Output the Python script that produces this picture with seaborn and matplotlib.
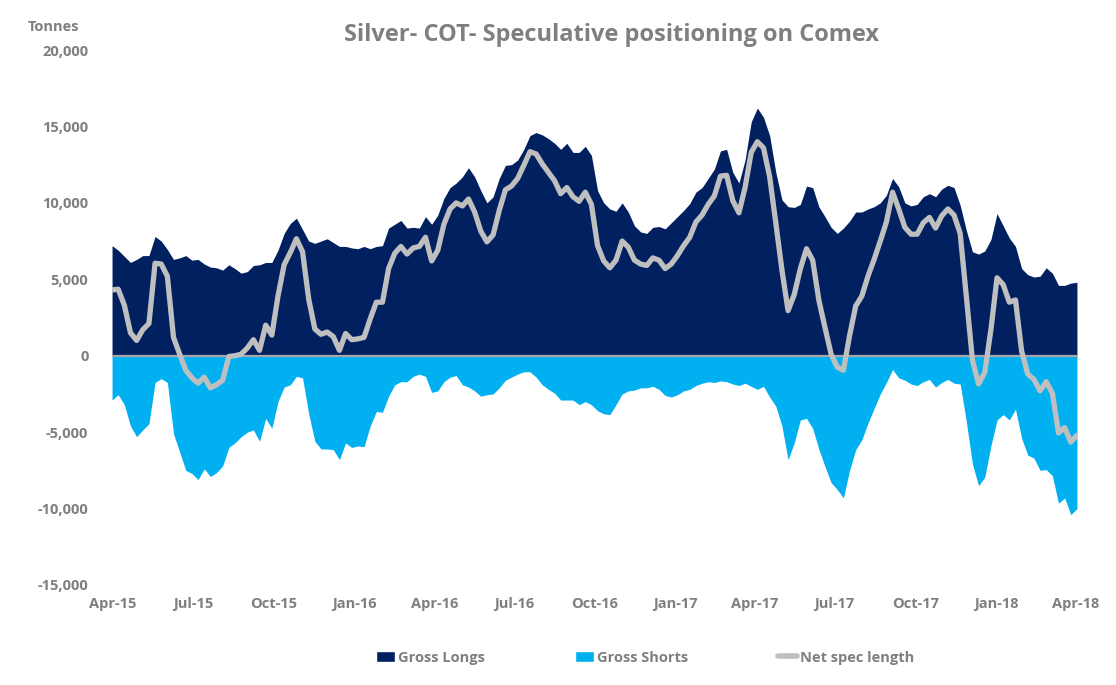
import pandas as pd
import numpy as np
import matplotlib
matplotlib.use("Agg")
import matplotlib.pyplot as plt
from matplotlib.patches import Patch
from matplotlib.lines import Line2D
from matplotlib.ticker import FuncFormatter
import seaborn as sns

# weekly COT readings (thousand tonnes), first report 31-Mar-2015
gross_longs = [
    7.2, 6.9, 6.5, 6.1, 6.3, 6.55, 6.55, 7.8, 7.5, 6.95,
    6.3, 6.4, 6.55, 6.25, 6.3, 6.0, 5.8, 5.75, 5.6, 5.95,
    5.7, 5.4, 5.5, 5.9, 5.95, 6.1, 6.1, 6.9, 8.0, 8.65,
    9.0, 8.25, 7.5, 7.35, 7.5, 7.65, 7.4, 7.15, 7.15, 7.05,
    7.0, 7.15, 7.0, 7.15, 7.2, 8.35, 8.6, 8.85, 8.35, 8.4,
    8.35, 9.1, 8.6, 9.2, 10.3, 11.0, 11.3, 11.7, 12.3, 11.7,
    10.8, 10.0, 10.4, 11.6, 12.45, 12.5, 12.8, 13.5, 14.4, 14.6,
    14.45, 14.2, 13.9, 13.5, 13.9, 13.3, 13.3, 13.7, 13.1, 10.8,
    10.0, 9.6, 9.45, 10.0, 9.4, 8.5, 8.1, 8.0, 8.4, 8.45,
    8.3, 8.7, 9.1, 9.5, 9.95, 10.7, 11.0, 11.6, 12.2, 13.4,
    13.5, 12.0, 11.3, 12.8, 15.3, 16.2, 15.6, 14.4, 12.0, 10.2,
    9.75, 9.7, 9.9, 11.1, 11.0, 9.75, 9.1, 8.4, 8.0, 8.35,
    8.8, 9.4, 9.4, 9.6, 9.75, 10.0, 10.5, 11.6, 11.05, 10.0,
    9.8, 9.9, 10.4, 10.6, 10.4, 10.9, 11.15, 11.0, 9.85, 8.2,
    6.8, 6.65, 6.85, 7.6, 9.3, 8.5, 7.7, 7.15, 5.7, 5.3,
    5.15, 5.2, 5.75, 5.4, 4.6, 4.6, 4.75, 4.8,
]
gross_shorts = [
    -2.9, -2.55, -3.2, -4.6, -5.3, -4.85, -4.45, -1.75, -1.5, -1.75,
    -5.1, -6.3, -7.5, -7.7, -8.1, -7.4, -7.9, -7.65, -7.2, -6.0,
    -5.7, -5.3, -5.0, -4.85, -5.6, -4.1, -4.75, -3.0, -2.05, -1.9,
    -1.35, -1.45, -3.8, -5.6, -6.1, -6.1, -6.15, -6.8, -5.7, -6.0,
    -5.9, -5.95, -4.6, -3.65, -3.7, -2.65, -1.9, -1.7, -1.7, -1.35,
    -1.2, -1.35, -2.4, -2.3, -1.7, -1.4, -1.3, -1.9, -2.05, -2.3,
    -2.65, -2.55, -2.5, -2.1, -1.6, -1.4, -1.2, -1.05, -1.05, -1.4,
    -1.9, -2.2, -2.45, -2.9, -2.9, -2.9, -3.2, -3.0, -3.2, -3.6,
    -3.8, -3.85, -3.2, -2.5, -2.3, -2.25, -2.1, -2.1, -2.0, -2.2,
    -2.6, -2.7, -2.55, -2.3, -2.2, -1.95, -1.8, -1.7, -1.75, -1.65,
    -1.7, -1.85, -1.95, -1.8, -2.0, -2.2, -2.0, -2.7, -3.3, -4.6,
    -6.8, -5.7, -4.2, -4.1, -4.75, -6.1, -7.25, -8.3, -8.75, -9.3,
    -7.5, -6.15, -5.5, -4.4, -3.45, -2.5, -1.75, -0.9, -1.45, -1.6,
    -1.85, -1.95, -1.7, -1.55, -2.05, -1.75, -1.55, -1.8, -1.85, -4.3,
    -7.1, -8.5, -7.95, -5.9, -4.2, -3.85, -4.2, -3.5, -5.4, -6.5,
    -6.7, -7.5, -7.45, -7.85, -9.65, -9.3, -10.4, -10.0,
]
y_ticks = [20000, 15000, 10000, 5000, 0, -5000, -10000, -15000]
quarter_labels = ["Apr-15", "Jul-15", "Oct-15", "Jan-16", "Apr-16", "Jul-16", "Oct-16",
                  "Jan-17", "Apr-17", "Jul-17", "Oct-17", "Jan-18", "Apr-18"]

df = pd.DataFrame({
    "date": pd.date_range("2015-03-31", periods=len(gross_longs), freq="7D"),
    "longs": np.array(gross_longs) * 1000,
    "shorts": np.array(gross_shorts) * 1000,
})
# net spec length = longs minus shorts (shorts are stored negative)
df["net"] = df["longs"] + df["shorts"]

sns.set_theme(style="white")
plt.rcParams["font.family"] = ["Open Sans", "DejaVu Sans"]
grey_txt = "#7f7f7f"

fig = plt.figure(figsize=(11.16, 6.85), dpi=100)
ax = fig.add_axes([0.1004, 0.146, 0.8646, 0.781])

ax.fill_between(df["date"], 0, df["longs"], color="#002060", lw=0, zorder=1)
ax.fill_between(df["date"], 0, df["shorts"], color="#00B0F0", lw=0, zorder=1)
ax.axhline(0, color="#a6a6a6", lw=1.6, zorder=2)
sns.lineplot(data=df, x="date", y="net", color="#bfbfbf", lw=3.8, ax=ax, zorder=3)

ax.set_xlim(df["date"].iloc[0], df["date"].iloc[-1])
ax.set_ylim(-15000, 20000)
ax.set_yticks(y_ticks)
ax.yaxis.set_major_formatter(FuncFormatter(lambda v, p: f"{v:,.0f}"))
tick_dates = pd.date_range("2015-04-01", periods=len(quarter_labels), freq="3MS")
ax.set_xticks(tick_dates)
ax.set_xticklabels(quarter_labels)
ax.set_xlabel("")
ax.set_ylabel("")
for s in ax.spines.values():
    s.set_visible(False)
ax.tick_params(axis="both", length=0, labelsize=10.5, labelcolor=grey_txt)
ax.tick_params(axis="y", pad=17)
ax.tick_params(axis="x", pad=9)
for lbl in ax.get_xticklabels() + ax.get_yticklabels():
    lbl.set_fontweight("bold")

fig.text(0.025, 0.96, "Tonnes", fontsize=10.5, color=grey_txt, fontweight="bold",
         va="center")
fig.text(0.548, 0.949, "Silver- COT- Speculative positioning on Comex", fontsize=17,
         color=grey_txt, fontweight="bold", ha="center", va="center")

handles = [
    Patch(facecolor="#002060", label="Gross Longs"),
    Patch(facecolor="#00B0F0", label="Gross Shorts"),
    Line2D([0], [0], color="#bfbfbf", lw=4, label="Net spec length"),
]
leg = fig.legend(handles=handles, loc="center", bbox_to_anchor=(0.578, 0.04), ncol=3,
                 frameon=False, fontsize=10.5, handlelength=1.3, handletextpad=0.2,
                 columnspacing=6.2)
for t in leg.get_texts():
    t.set_color(grey_txt)
    t.set_fontweight("bold")

fig.savefig("out.png", dpi=100)
